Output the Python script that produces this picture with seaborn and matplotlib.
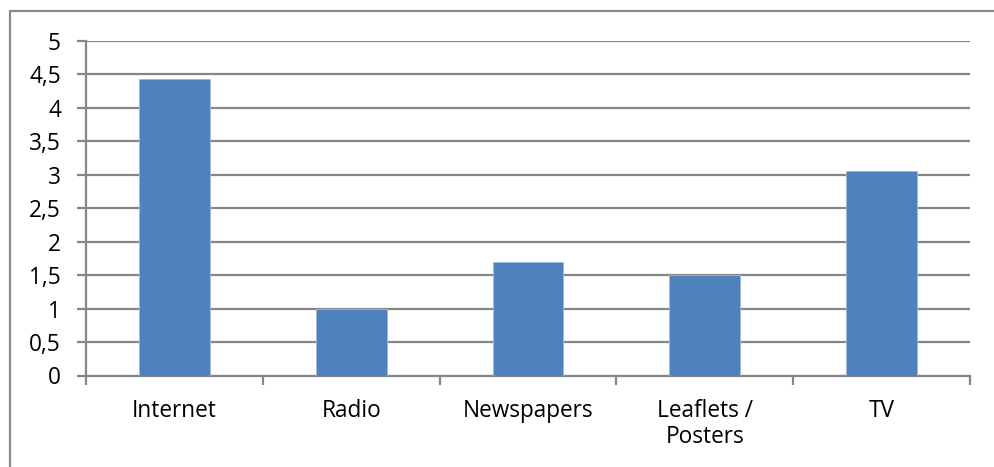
import matplotlib
matplotlib.use("Agg")
import matplotlib.pyplot as plt
from matplotlib.lines import Line2D
from matplotlib.ticker import FixedLocator
import seaborn as sns
import pandas as pd

# Media channels and their average scores
categories = ["Internet", "Radio", "Newspapers", "Leaflets /\nPosters", "TV"]
scores = [4.43, 1.0, 1.7, 1.5, 3.06]
y_ticks = [0, 0.5, 1, 1.5, 2, 2.5, 3, 3.5, 4, 4.5, 5]
y_tick_labels = ["0", "0,5", "1", "1,5", "2", "2,5", "3", "3,5", "4", "4,5", "5"]

df = pd.DataFrame({"channel": categories, "score": scores})

sns.set_theme(style="white")
plt.rcParams["font.family"] = ["Open Sans", "DejaVu Sans"]

W, H = 995, 467
fig = plt.figure(figsize=(W / 100, H / 100), dpi=100)
ax = fig.add_axes([86 / W, 1 - 375.5 / H, (970 - 86) / W, (375.5 - 41) / H])

grid_color = "#868686"
sns.barplot(data=df, x="channel", y="score", color="#4F81BD", width=0.4,
            saturation=1, ax=ax, zorder=3,
            edgecolor="#9DB9DC", linewidth=0.6)

ax.set_xlim(-0.5, len(categories) - 0.5)
ax.set_ylim(0, 5)
ax.set_yticks(y_ticks)
ax.set_yticklabels(y_tick_labels)
ax.yaxis.grid(True, color=grid_color, linewidth=1.6, zorder=0)
ax.set_axisbelow(True)
ax.set_xlabel("")
ax.set_ylabel("")

for side in ["top", "right"]:
    ax.spines[side].set_visible(False)
for side in ["left", "bottom"]:
    ax.spines[side].set_visible(True)
    ax.spines[side].set_color(grid_color)
    ax.spines[side].set_linewidth(1.6)

ax.tick_params(axis="y", direction="out", length=6.5, width=1.6,
               color=grid_color, pad=11.5, labelsize=16.3, labelcolor="black", left=True)
# category ticks sit between the bars
ax.xaxis.set_minor_locator(FixedLocator([i - 0.5 for i in range(len(categories) + 1)]))
ax.tick_params(axis="x", which="minor", direction="out", length=6.5, width=1.6,
               color=grid_color, bottom=True)
ax.tick_params(axis="x", which="major", length=0, pad=17, labelsize=16.3,
               labelcolor="black")
for lbl in ax.get_xticklabels():
    lbl.set_linespacing(1.12)

# chart-area frame (top and left edges)
frame_color = "#898989"
fig.add_artist(Line2D([10 / W, 1], [1 - 10.5 / H, 1 - 10.5 / H],
                      color=frame_color, linewidth=1.6, transform=fig.transFigure))
fig.add_artist(Line2D([10.5 / W, 10.5 / W], [0, 1 - 10.5 / H],
                      color=frame_color, linewidth=1.6, transform=fig.transFigure))

fig.savefig("out.png", dpi=100, facecolor="white")
